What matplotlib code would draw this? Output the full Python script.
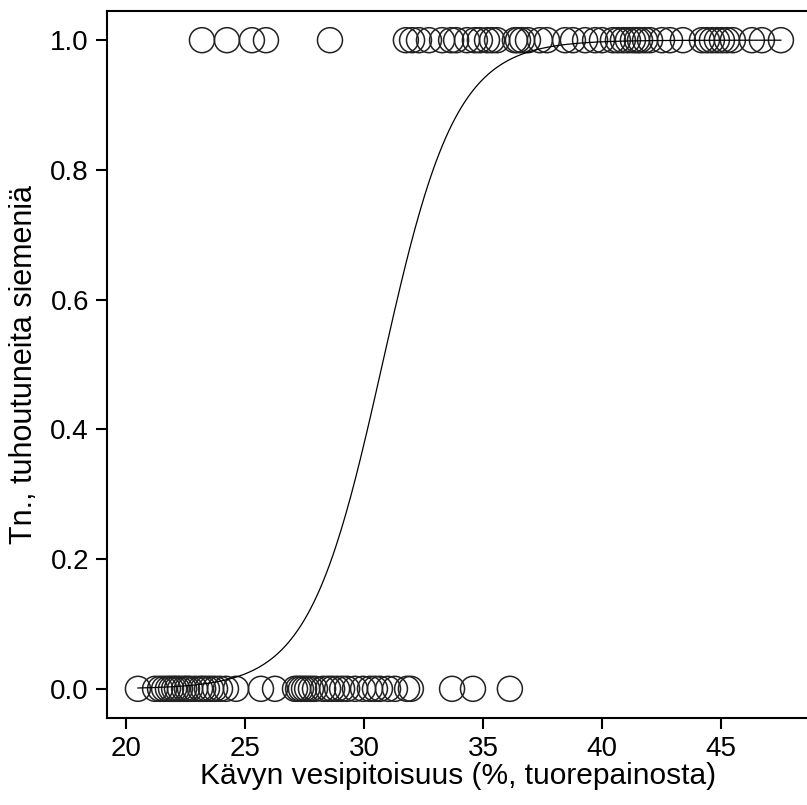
import numpy as np
import matplotlib
matplotlib.use("Agg")
import matplotlib.pyplot as plt

# cone water content (% of fresh weight), seeds destroyed (1) or not (0)
x_destroyed = [23.19, 24.24, 25.29, 25.88, 28.57, 31.76, 32.02, 32.31, 32.73, 33.28,
               33.66, 33.87, 34.33, 34.66, 34.87, 35.17, 35.38, 35.59, 36.34, 36.47,
               36.64, 36.89, 37.39, 37.69, 38.45, 38.78, 39.29, 39.71, 40.00, 40.46,
               40.67, 40.88, 41.09, 41.30, 41.47, 41.60, 41.81, 42.02, 42.52, 42.86,
               43.40, 44.20, 44.41, 44.62, 44.83, 45.04, 45.25, 45.50, 46.30, 46.72,
               47.52]
x_intact = [20.50, 21.22, 21.43, 21.60, 21.76, 21.89, 22.02, 22.14, 22.27, 22.44,
            22.56, 22.69, 22.90, 23.11, 23.24, 23.40, 23.57, 23.74, 23.95, 24.20,
            24.62, 25.67, 26.26, 27.10, 27.23, 27.35, 27.48, 27.61, 27.77, 27.94,
            28.28, 28.49, 28.66, 28.87, 29.08, 29.29, 29.62, 29.96, 30.25, 30.46,
            30.67, 31.01, 31.30, 31.81, 31.97, 33.70, 34.58, 36.13]

# logistic fit coefficients
b0, b1 = -20.0, 0.65

x_all = np.array(x_destroyed + x_intact)
y_all = np.array([1] * len(x_destroyed) + [0] * len(x_intact))

plt.rcParams["font.family"] = ["Liberation Sans", "DejaVu Sans"]

fig = plt.figure(figsize=(8.07, 8.05), dpi=100)
ax = fig.add_axes([107 / 807, 87 / 805, 702 / 807, 707 / 805])

ax.scatter(x_all, y_all, s=18 ** 2, facecolors="none", edgecolors="#222222",
           linewidths=1.1, zorder=2)

xs = np.linspace(x_all.min(), x_all.max(), 400)
ax.plot(xs, 1 / (1 + np.exp(-(b0 + b1 * xs))), color="black", linewidth=0.9, zorder=3)

ax.set_xlim(19.2, 48.7)
ax.set_ylim(-0.045, 1.045)
ax.set_xticks([20, 25, 30, 35, 40, 45])
ax.set_yticks([0.0, 0.2, 0.4, 0.6, 0.8, 1.0])
ax.set_yticklabels(["0.0", "0.2", "0.4", "0.6", "0.8", "1.0"])

for s in ax.spines.values():
    s.set_linewidth(1.5)
ax.tick_params(direction="out", length=8, width=1.5, labelsize=20, pad=5)

ax.set_xlabel("Kävyn vesipitoisuus (%, tuorepainosta)", fontsize=21.5, labelpad=0)
ax.set_ylabel("Tn., tuhoutuneita siemeniä", fontsize=22, labelpad=8)

fig.savefig("out.png", dpi=100)
